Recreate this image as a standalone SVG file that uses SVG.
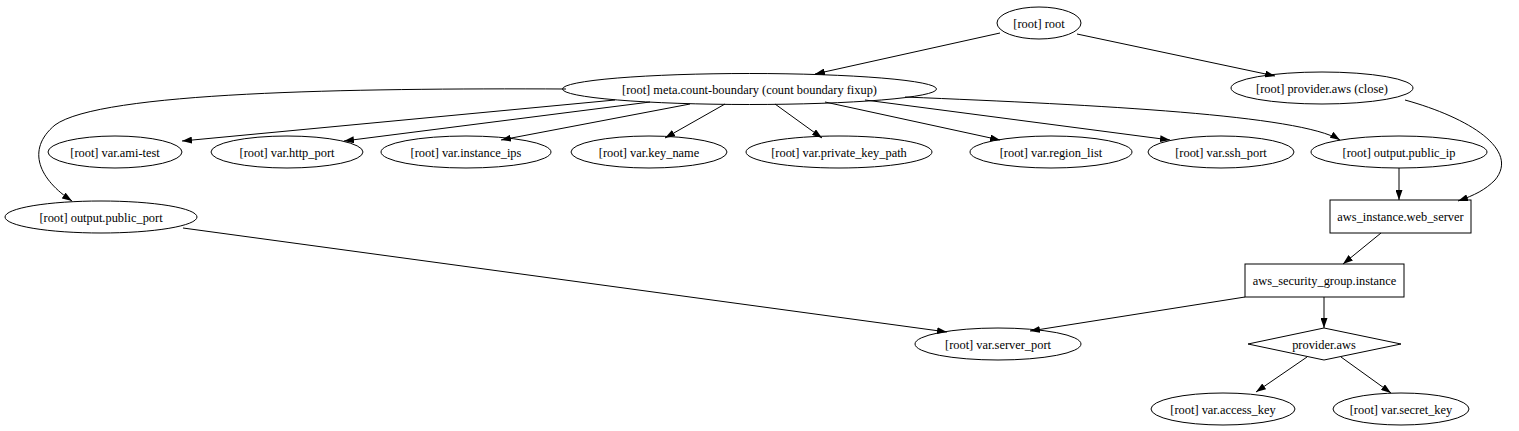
<svg xmlns="http://www.w3.org/2000/svg" width="1519" height="431" viewBox="0 0 1519 431">
<style>
.n ellipse, .n rect, .n polygon { fill: none; stroke: #000; stroke-width: 1; }
.n text { font-family: "Liberation Serif", "Times New Roman", serif; font-size: 12.4px; fill: #000; text-anchor: middle; }
.e path { fill: none; stroke: #000; stroke-width: 1; }
</style>
<defs>
<marker id="ah" viewBox="0 0 10 7" refX="10" refY="3.5" markerWidth="10" markerHeight="7" markerUnits="userSpaceOnUse" orient="auto">
<path d="M0,0 L10,3.5 L0,7 z" fill="#000"/>
</marker>
</defs>
<rect width="1519" height="431" fill="#fff"/>
<g id="edges" class="e">
<path d="M1000,33 L815,74" marker-end="url(#ah)"/>
<path d="M1077,34 L1275,76" marker-end="url(#ah)"/>
<path d="M615,100 L182,141" marker-end="url(#ah)"/>
<path d="M650,102 L344,141" marker-end="url(#ah)"/>
<path d="M690,104 L501,140" marker-end="url(#ah)"/>
<path d="M725,104 L665,138" marker-end="url(#ah)"/>
<path d="M775,104 L822,138" marker-end="url(#ah)"/>
<path d="M825,102 L1000,140" marker-end="url(#ah)"/>
<path d="M865,100 L1170,140" marker-end="url(#ah)"/>
<path d="M905,97 C1100,105 1300,115 1340,140" marker-end="url(#ah)"/>
<path d="M566,89 C350,88 100,92 55,125 C25,150 40,180 72,201" marker-end="url(#ah)"/>
<path d="M1399,168 L1399,200" marker-end="url(#ah)"/>
<path d="M1405,100 C1470,118 1520,150 1495,180 C1485,190 1475,195 1458,201" marker-end="url(#ah)"/>
<path d="M1381,233 L1343,264" marker-end="url(#ah)"/>
<path d="M1245,297 L1030,331" marker-end="url(#ah)"/>
<path d="M183,228 L947,332" marker-end="url(#ah)"/>
<path d="M1324,297 L1324,328" marker-end="url(#ah)"/>
<path d="M1307,357 L1256,392" marker-end="url(#ah)"/>
<path d="M1341,357 L1391,393" marker-end="url(#ah)"/>
</g>
<g id="root" class="n"><ellipse cx="1039" cy="23" rx="42" ry="16"/><text x="1039" y="27.5">[root] root</text></g>
<g id="meta" class="n"><ellipse cx="749.5" cy="89" rx="187" ry="15.5"/><text x="749.5" y="93.5">[root] meta.count-boundary (count boundary fixup)</text></g>
<g id="provider_close" class="n"><ellipse cx="1322" cy="88" rx="91" ry="16"/><text x="1322" y="92.5">[root] provider.aws (close)</text></g>
<g id="ami_test" class="n"><ellipse cx="115" cy="152" rx="67" ry="16"/><text x="115" y="156.5">[root] var.ami-test</text></g>
<g id="http_port" class="n"><ellipse cx="287" cy="152" rx="76" ry="16"/><text x="287" y="156.5">[root] var.http_port</text></g>
<g id="instance_ips" class="n"><ellipse cx="466" cy="152" rx="85" ry="16"/><text x="466" y="156.5">[root] var.instance_ips</text></g>
<g id="key_name" class="n"><ellipse cx="649" cy="152" rx="78" ry="16"/><text x="649" y="156.5">[root] var.key_name</text></g>
<g id="private_key_path" class="n"><ellipse cx="839" cy="152" rx="93" ry="16"/><text x="839" y="156.5">[root] var.private_key_path</text></g>
<g id="region_list" class="n"><ellipse cx="1051" cy="152" rx="81" ry="16"/><text x="1051" y="156.5">[root] var.region_list</text></g>
<g id="ssh_port" class="n"><ellipse cx="1221" cy="152" rx="73" ry="16"/><text x="1221" y="156.5">[root] var.ssh_port</text></g>
<g id="public_ip" class="n"><ellipse cx="1399" cy="152" rx="88" ry="16"/><text x="1399" y="156.5">[root] output.public_ip</text></g>
<g id="public_port" class="n"><ellipse cx="101" cy="217" rx="96" ry="16"/><text x="101" y="221.5">[root] output.public_port</text></g>
<g id="web_server" class="n"><rect x="1330" y="200" width="141" height="33"/><text x="1400.5" y="221">aws_instance.web_server</text></g>
<g id="security_group" class="n"><rect x="1245" y="264" width="159" height="33"/><text x="1324.5" y="285">aws_security_group.instance</text></g>
<g id="server_port" class="n"><ellipse cx="998" cy="344" rx="83" ry="16"/><text x="998" y="348.5">[root] var.server_port</text></g>
<g id="provider_aws" class="n"><polygon points="1324,328 1401,344 1324,360 1248,344"/><text x="1324" y="348.5">provider.aws</text></g>
<g id="access_key" class="n"><ellipse cx="1223" cy="409" rx="72" ry="16"/><text x="1223" y="413.5">[root] var.access_key</text></g>
<g id="secret_key" class="n"><ellipse cx="1401" cy="409" rx="68" ry="16"/><text x="1401" y="413.5">[root] var.secret_key</text></g>
</svg>
